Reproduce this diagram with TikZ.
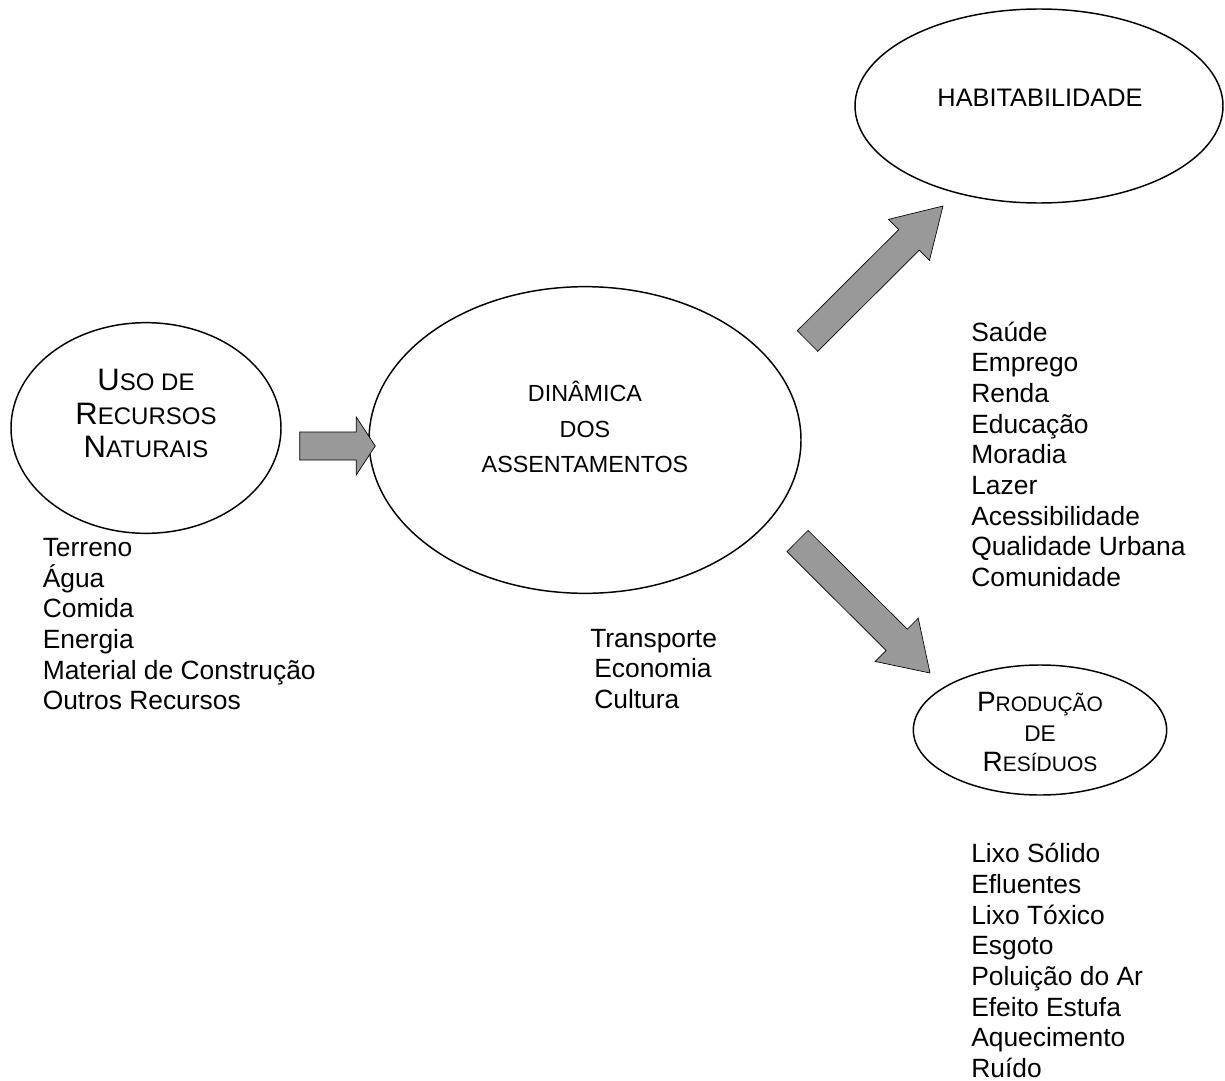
\documentclass[tikz,border=0pt]{standalone}
\usepackage{fontspec}
\setmainfont{Liberation Sans}
\usetikzlibrary{shapes.geometric, calc}

\definecolor{arrowgray}{RGB}{153,153,153}

% small capitals made by hand
\newcommand{\smcap}[2]{{\fontsize{#1}{#1}\selectfont #2}}

% block arrow: tail, tip, half shaft, half head, head length
\newcommand{\blockarrow}[5]{%
  \coordinate (#1#2) at ($(#2)!#5!(#1)$);
  \draw[blockarr] ($(#1)!#3!90:(#2)$) -- ($(#1#2)!#3!90:(#2)$) -- ($(#1#2)!#4!90:(#2)$)
    -- (#2) -- ($(#1#2)!#4!-90:(#2)$) -- ($(#1#2)!#3!-90:(#2)$) -- ($(#1)!#3!-90:(#2)$) -- cycle;
}

\begin{document}
\begin{tikzpicture}[x=0.75pt, y=-0.75pt,
    oval/.style = {draw, ellipse, line width=1.1pt, inner sep=0pt},
    lbl/.style = {align=center, inner sep=0pt, anchor=south},
    lst/.style = {align=left, inner sep=0pt, anchor=south west, font=\fontsize{19.8}{23}\selectfont},
    blockarr/.style = {draw=black, fill=arrowgray, line width=0.5pt, line join=miter}]
\useasboundingbox (0,0) rectangle (1225,1081);

\node[oval, minimum width=202.5pt, minimum height=158pt] (1) at (146,428) {};
\node[oval, minimum width=324pt, minimum height=230pt]   (2) at (585,440) {};
\node[oval, minimum width=276pt, minimum height=145.5pt] (3) at (1039,106) {};
\node[oval, minimum width=190pt, minimum height=97.5pt]  (4) at (1040,730) {};

\node[lbl, font=\fontsize{23.25}{25}\selectfont] (1a) at (146,458)
  {U\smcap{18}{SO DE}\\R\smcap{18}{ECURSOS}\\N\smcap{18}{ATURAIS}};
\node[lbl, font=\fontsize{17.5}{26.6}\selectfont] (2a) at (585,473)
  {DINÂMICA\\DOS\\ASSENTAMENTOS};
\node[lbl, font=\fontsize{19}{22}\selectfont] (3a) at (1040,107) {HABITABILIDADE};
\node[lbl, font=\fontsize{21}{22.5}\selectfont] (4a) at (1040,772)
  {P\smcap{15.75}{RODUÇÃO}\\\smcap{17}{DE}\\R\smcap{15.75}{ESÍDUOS}};

\node[lst] (5) at (42.5,710.5) {Terreno\\Água\\Comida\\Energia\\Material de Construção\\Outros Recursos};
\node[lst] (6) at (590,709) {Transporte\\\hspace*{3pt}Economia\\\hspace*{3pt}Cultura};
\node[lst] (7) at (971,587) {Saúde\\Emprego\\Renda\\Educação\\Moradia\\Lazer\\Acessibilidade\\Qualidade Urbana\\Comunidade};
\node[lst] (8) at (971,1078) {Lixo Sólido\\Efluentes\\Lixo Tóxico\\Esgoto\\Poluição do Ar\\Efeito Estufa\\Aquecimento\\Ruído};

\coordinate (s1) at ($(1.east)+(18,18)$);
\coordinate (e1) at ($(2.west)+(7,6)$);
\coordinate (s2) at ($(2)+(222.5,-99)$);
\coordinate (e2) at ($(3)+(-96,100)$);
\coordinate (s3) at ($(2)+(212.5,101)$);
\coordinate (e3) at ($(4)+(-110,-57)$);

\blockarrow{s1}{e1}{10.5pt}{21.75pt}{14.25pt}
\blockarrow{s2}{e2}{10.9pt}{21.75pt}{36pt}
\blockarrow{s3}{e3}{11.25pt}{22.9pt}{35.25pt}
\end{tikzpicture}
\end{document}
